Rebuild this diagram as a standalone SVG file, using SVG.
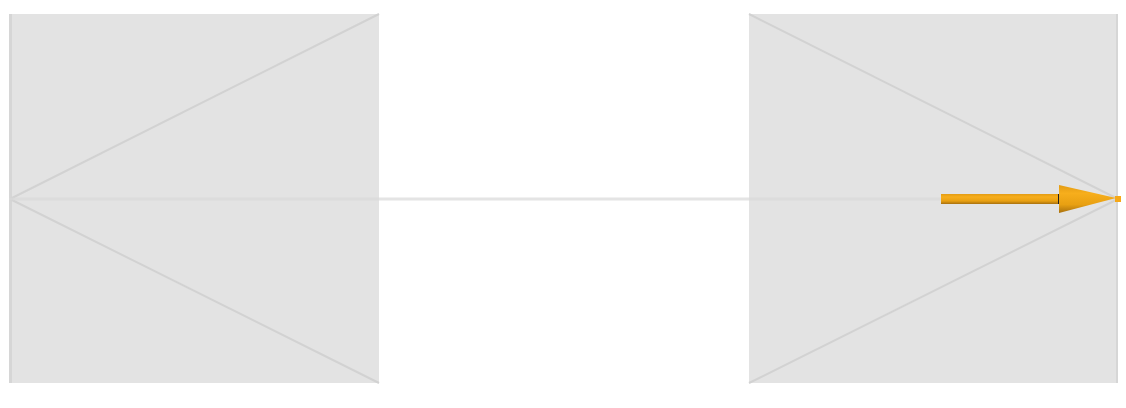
<svg xmlns="http://www.w3.org/2000/svg" width="1126" height="408" viewBox="0 0 1126 408">
<defs>
<style>
.box{fill:#e3e3e3}
.edge{fill:#d6d6d6}
.ln{stroke:#d2d2d2;stroke-width:2;fill:none}
</style>
<linearGradient id="og" x1="0" y1="0" x2="0" y2="1">
<stop offset="0" stop-color="#e39c14"/>
<stop offset="0.3" stop-color="#f7ae1c"/>
<stop offset="0.7" stop-color="#e8a012"/>
<stop offset="1" stop-color="#a8700e"/>
</linearGradient>
</defs>
<rect width="1126" height="408" fill="#ffffff"/>
<g id="left-box">
<rect class="box" x="9" y="14" width="370" height="369"/>
<rect class="edge" x="9" y="14" width="3" height="369"/>
<line class="ln" x1="10" y1="199" x2="379" y2="14"/>
<line class="ln" x1="10" y1="199" x2="379" y2="383"/>
</g>
<g id="right-box">
<rect class="box" x="749" y="14" width="369" height="369"/>
<rect class="edge" x="1116" y="14" width="2" height="369"/>
<line class="ln" x1="749" y1="14" x2="1118" y2="199"/>
<line class="ln" x1="749" y1="383" x2="1118" y2="199"/>
</g>
<g id="connectors">
<line x1="9" y1="199" x2="1118" y2="199" stroke="#d8d8d8" stroke-opacity="0.7" stroke-width="3"/>
<g id="arrow">
<rect x="941" y="194" width="119" height="10" fill="url(#og)"/>
<line x1="1058.5" y1="194" x2="1058.5" y2="204" stroke="#222" stroke-width="1"/>
<polygon points="1059,185 1116,198 1059,213" fill="url(#og)"/>
<rect x="1115" y="196" width="6" height="6" fill="#f5a818"/>
</g>
</g>
</svg>
